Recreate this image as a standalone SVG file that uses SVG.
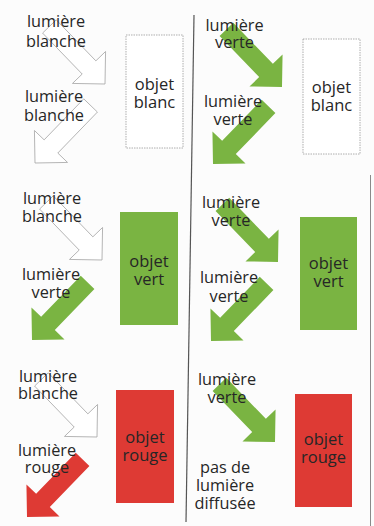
<svg xmlns="http://www.w3.org/2000/svg" width="374" height="526" viewBox="0 0 374 526">
<style>
.t{font-family:"Open Sans","Liberation Sans",sans-serif;font-size:16.3px;fill:#262626;text-anchor:middle}
.o{font-family:"Open Sans","Liberation Sans",sans-serif;font-size:16.5px;fill:#262626;text-anchor:middle}
.ow{fill:#ffffff;stroke:#9a9a9a;stroke-width:0.8;stroke-dasharray:1.5 1}
.g{fill:#7ab442}
.r{fill:#de3a34}
.aw{fill:#ffffff;stroke:#a8a8a8;stroke-width:0.8}
</style>
<defs>
<path id="arr" d="M-80,-9.5 L-23,-9.5 L-23,-23 L0,0 L-23,23 L-23,9.5 L-80,9.5 Z"/>
</defs>
<rect x="0" y="0" width="374" height="526" fill="#fcfcfc"/>
<line x1="194" y1="15" x2="186" y2="522" stroke="#555" stroke-width="1.2"/>
<line x1="370.5" y1="175" x2="370.5" y2="526" stroke="#8a8a8a" stroke-width="1"/>
<g id="connectors">
  <use href="#arr" class="aw" transform="translate(105,84) rotate(46)"/>
  <use href="#arr" class="aw" transform="translate(35,163) rotate(134)"/>
  <use href="#arr" class="aw" transform="translate(102,260) rotate(46)"/>
  <use href="#arr" class="g" transform="translate(32,340) rotate(134)"/>
  <use href="#arr" class="aw" transform="translate(97,437) rotate(46)"/>
  <use href="#arr" class="r" transform="translate(27,517) rotate(134)"/>
  <use href="#arr" class="g" transform="translate(282,87) rotate(46)"/>
  <use href="#arr" class="g" transform="translate(213,164) rotate(134)"/>
  <use href="#arr" class="g" transform="translate(278,262) rotate(46)"/>
  <use href="#arr" class="g" transform="translate(211,341) rotate(134)"/>
  <use href="#arr" class="g" transform="translate(275,442) rotate(46)"/>
</g>
<g id="obj-blanc-1"><rect class="ow" x="126" y="35" width="57" height="113"/><text class="o" x="154.5" y="90">objet</text><text class="o" x="154.5" y="108">blanc</text></g>
<g id="obj-vert-1"><rect class="g" x="120" y="212" width="58" height="113"/><text class="o" x="149" y="267">objet</text><text class="o" x="149" y="285">vert</text></g>
<g id="obj-rouge-1"><rect class="r" x="116" y="390" width="58" height="113"/><text class="o" x="145" y="443">objet</text><text class="o" x="145" y="461">rouge</text></g>
<g id="obj-blanc-2"><rect class="ow" x="303" y="39" width="57" height="115"/><text class="o" x="331.5" y="93">objet</text><text class="o" x="331.5" y="111">blanc</text></g>
<g id="obj-vert-2"><rect class="g" x="300" y="217" width="57" height="113"/><text class="o" x="328.5" y="269">objet</text><text class="o" x="328.5" y="287">vert</text></g>
<g id="obj-rouge-2"><rect class="r" x="295" y="394" width="57" height="113"/><text class="o" x="323.5" y="445">objet</text><text class="o" x="323.5" y="463">rouge</text></g>
<g id="lbl-1a"><text class="t" x="56" y="27">lumière</text><text class="t" x="56" y="47">blanche</text></g>
<g id="lbl-1b"><text class="t" x="54" y="102">lumière</text><text class="t" x="54" y="121">blanche</text></g>
<g id="lbl-2a"><text class="t" x="52" y="204">lumière</text><text class="t" x="52" y="222">blanche</text></g>
<g id="lbl-2b"><text class="t" x="51" y="280">lumière</text><text class="t" x="51" y="298">verte</text></g>
<g id="lbl-3a"><text class="t" x="48" y="382">lumière</text><text class="t" x="48" y="399">blanche</text></g>
<g id="lbl-3b"><text class="t" x="47" y="456">lumière</text><text class="t" x="47" y="473">rouge</text></g>
<g id="lbl-4a"><text class="t" x="234.5" y="31">lumière</text><text class="t" x="234.5" y="48">verte</text></g>
<g id="lbl-4b"><text class="t" x="233" y="107">lumière</text><text class="t" x="233" y="125">verte</text></g>
<g id="lbl-5a"><text class="t" x="231" y="208">lumière</text><text class="t" x="231" y="226">verte</text></g>
<g id="lbl-5b"><text class="t" x="229" y="283">lumière</text><text class="t" x="229" y="302">verte</text></g>
<g id="lbl-6a"><text class="t" x="227" y="385">lumière</text><text class="t" x="227" y="403">verte</text></g>
<g id="lbl-6b"><text class="t" x="225" y="473">pas de</text><text class="t" x="225" y="491">lumière</text><text class="t" x="225" y="509">diffusée</text></g>
</svg>
